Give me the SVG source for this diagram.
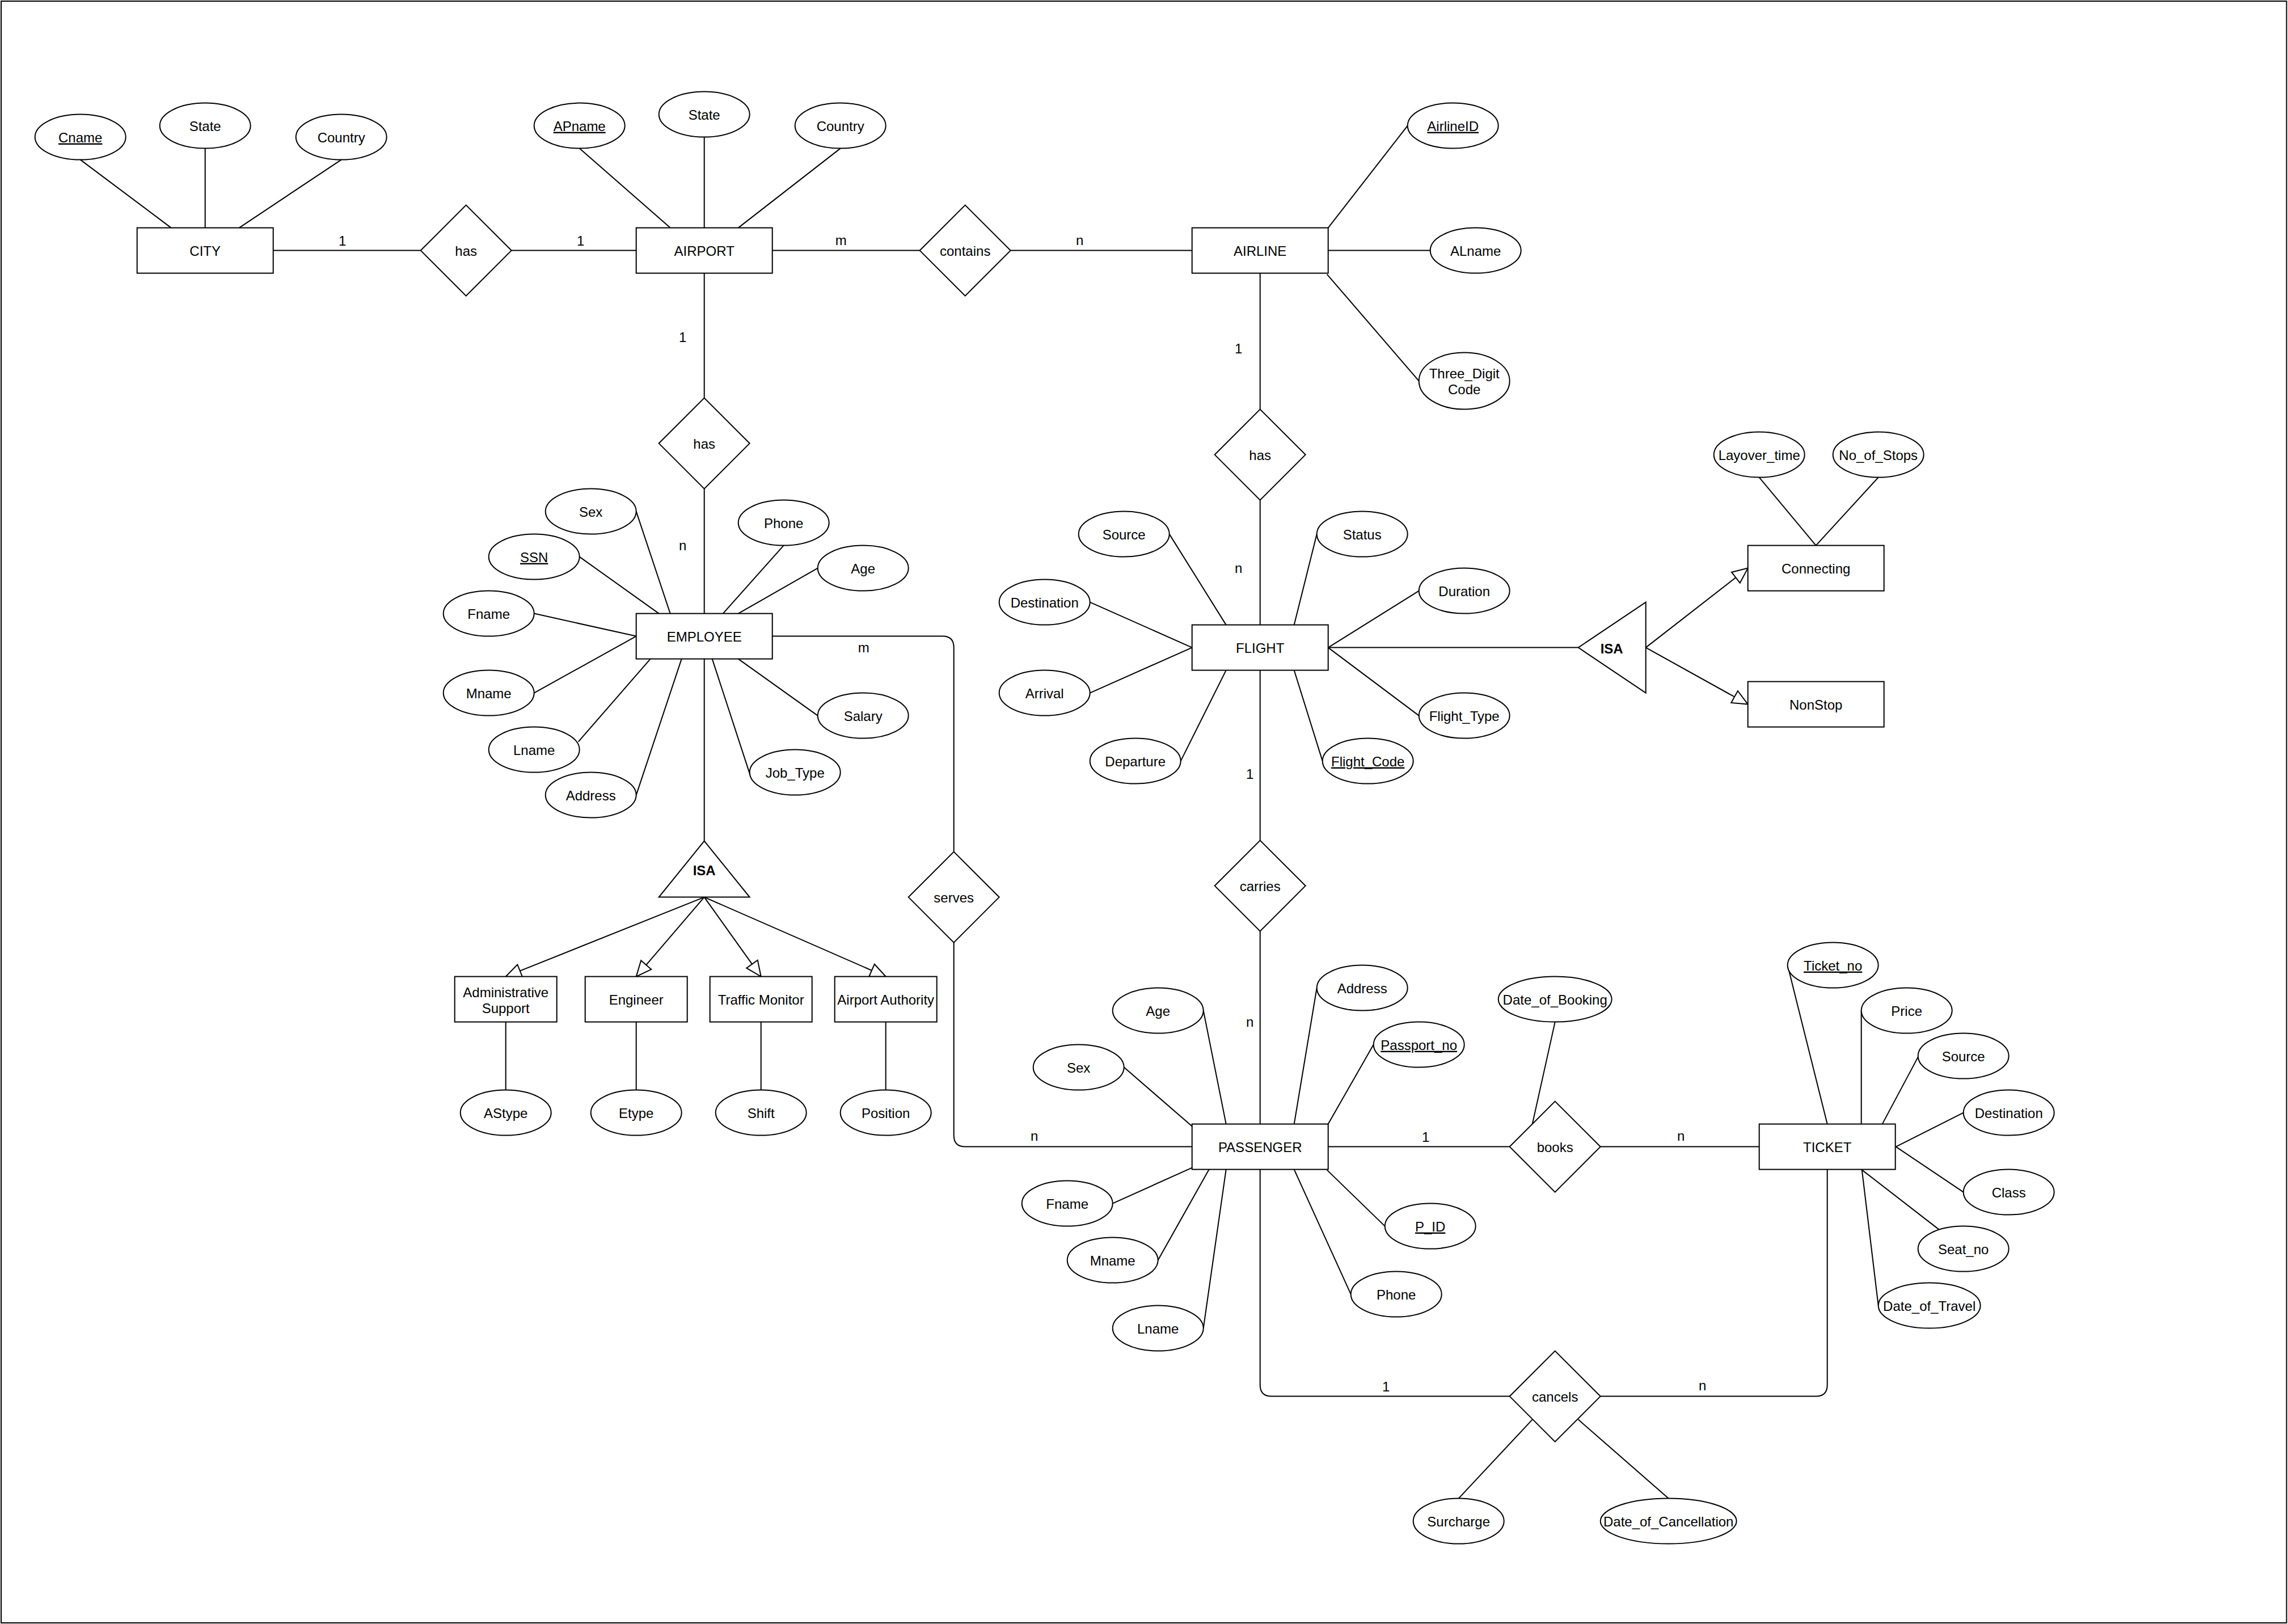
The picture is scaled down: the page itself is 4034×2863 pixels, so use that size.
<svg xmlns="http://www.w3.org/2000/svg" width="4034" height="2863" viewBox="0 0 4034 2863">
  <style>
    .shape { fill: #ffffff; stroke: #000000; stroke-width: 2; }
    .edge { fill: none; stroke: #000000; stroke-width: 2; }
    text { font-family: "Liberation Sans", Arial, Helvetica, sans-serif; font-size: 24px; fill: #000000; stroke: none; text-anchor: middle; }
    .key { text-decoration: underline; }
    .isa { font-weight: bold; }
  </style>
  <defs>
    <marker id="open" markerUnits="userSpaceOnUse" viewBox="-2 -2 31 28" markerWidth="31" markerHeight="28" refX="27" refY="12" orient="auto">
      <path d="M0,0 L27,12 L0,24 Z" fill="#ffffff" stroke="#000000" stroke-width="2"/>
    </marker>
  </defs>

  <rect x="2" y="2" width="4029.5" height="2859" fill="#ffffff" stroke="#000000" stroke-width="2"/>

  <g transform="translate(1.7,1.6)">
    <!-- connectors -->
    <g id="connectors">
      <!-- relationships -->
      <path class="edge" d="M480,440 H740"/>
      <path class="edge" d="M900,440 H1120"/>
      <path class="edge" d="M1360,440 H1620"/>
      <path class="edge" d="M1780,440 H2100"/>
      <path class="edge" d="M1240,480 V700"/>
      <path class="edge" d="M1240,860 V1080"/>
      <path class="edge" d="M2220,480 V720"/>
      <path class="edge" d="M2220,880 V1100"/>
      <path class="edge" d="M2220,1180 V1480"/>
      <path class="edge" d="M2220,1640 V1980"/>
      <path class="edge" d="M1360,1120 H1660 Q1680,1120 1680,1140 V1500"/>
      <path class="edge" d="M1680,1660 V2000 Q1680,2020 1700,2020 H2100"/>
      <path class="edge" d="M2340,2020 H2660"/>
      <path class="edge" d="M2820,2020 H3100"/>
      <path class="edge" d="M2220,2060 V2440 Q2220,2460 2240,2460 H2660"/>
      <path class="edge" d="M2820,2460 H3200 Q3220,2460 3220,2440 V2060"/>
      <!-- specialisation -->
      <path class="edge" d="M1240,1160 V1481"/>
      <path class="edge" d="M1240,1580 L890,1720" marker-end="url(#open)"/>
      <path class="edge" d="M1240,1580 L1120,1720" marker-end="url(#open)"/>
      <path class="edge" d="M1240,1580 L1340,1720" marker-end="url(#open)"/>
      <path class="edge" d="M1240,1580 L1560,1720" marker-end="url(#open)"/>
      <path class="edge" d="M890,1800 V1920"/>
      <path class="edge" d="M1120,1800 V1920"/>
      <path class="edge" d="M1340,1800 V1920"/>
      <path class="edge" d="M1560,1800 V1920"/>
      <path class="edge" d="M2340,1140 H2781"/>
      <path class="edge" d="M2900,1140 L3080,1000" marker-end="url(#open)"/>
      <path class="edge" d="M2900,1140 L3080,1240" marker-end="url(#open)"/>
      <path class="edge" d="M3100,840 L3200,960"/>
      <path class="edge" d="M3310,840 L3200,960"/>
      <!-- attributes -->
      <path class="edge" d="M140,280 L300,400 M360,260 V400 M600,280 L420,400"/>
      <path class="edge" d="M1020,260 L1180,400 M1240,240 V400 M1480,260 L1300,400"/>
      <path class="edge" d="M2480,220 L2340,400 M2520,440 H2340 M2500,670 L2338,482"/>
      <path class="edge" d="M1120,900 L1180,1080 M1020,980 L1160,1080 M940,1080 L1120,1120 M940,1220 L1120,1120 M1018,1306 L1145,1160 M1120,1400 L1200,1160 M1320,1362 L1254,1160 M1440,1260 L1300,1160 M1440,1000 L1300,1080 M1380,960 L1273,1080"/>
      <path class="edge" d="M2060,940 L2160,1100 M2320,940 L2280,1100 M1920,1060 L2100,1140 M1920,1220 L2100,1140 M2080,1340 L2160,1180 M2500,1040 L2340,1140 M2500,1260 L2340,1140 M2330,1340 L2280,1180"/>
      <path class="edge" d="M2120,1780 L2160,1980 M1980,1880 L2100,1984 M2320,1740 L2280,1980 M2420,1840 L2340,1980 M1960,2120 L2100,2057 M2040,2220 L2130,2060 M2120,2340 L2160,2060 M2440,2160 L2338,2061 M2380,2280 L2280,2060"/>
      <path class="edge" d="M2740,1800 L2700,1980 M2570,2640 L2700,2501 M2940,2640 L2781,2501"/>
      <path class="edge" d="M3150,1700 L3220,1980 M3280,1780 V1980 M3381,1860 L3317,1980 M3460,1960 L3341,2020 M3460,2100 L3341,2020 M3417,2166 L3280,2060 M3310,2300 L3281,2060"/>
      <!-- cardinalities -->
      <text x="602" y="431">1</text>
      <text x="1022" y="431">1</text>
      <text x="1481" y="430">m</text>
      <text x="1902" y="430">n</text>
      <text x="1202" y="601">1</text>
      <text x="1202" y="968">n</text>
      <text x="2182" y="621">1</text>
      <text x="2182" y="1008">n</text>
      <text x="1521" y="1148">m</text>
      <text x="2202" y="1371">1</text>
      <text x="2202" y="1808">n</text>
      <text x="1822" y="2009">n</text>
      <text x="2512" y="2011">1</text>
      <text x="2962" y="2009">n</text>
      <text x="2442" y="2451">1</text>
      <text x="3000" y="2449">n</text>
    </g>

    <!-- entities -->
    <g id="city"><rect class="shape" x="240" y="400" width="240" height="80"/><text x="360" y="449">CITY</text></g>
    <g id="airport"><rect class="shape" x="1120" y="400" width="240" height="80"/><text x="1240" y="449">AIRPORT</text></g>
    <g id="airline"><rect class="shape" x="2100" y="400" width="240" height="80"/><text x="2220" y="449">AIRLINE</text></g>
    <g id="employee"><rect class="shape" x="1120" y="1080" width="240" height="80"/><text x="1240" y="1129">EMPLOYEE</text></g>
    <g id="flight"><rect class="shape" x="2100" y="1100" width="240" height="80"/><text x="2220" y="1149">FLIGHT</text></g>
    <g id="passenger"><rect class="shape" x="2100" y="1980" width="240" height="80"/><text x="2220" y="2029">PASSENGER</text></g>
    <g id="ticket"><rect class="shape" x="3100" y="1980" width="240" height="80"/><text x="3220" y="2029">TICKET</text></g>
    <g id="connecting"><rect class="shape" x="3080" y="960" width="240" height="80"/><text x="3200" y="1009">Connecting</text></g>
    <g id="nonstop"><rect class="shape" x="3080" y="1200" width="240" height="80"/><text x="3200" y="1249">NonStop</text></g>
    <g id="administrative-support"><rect class="shape" x="800" y="1720" width="180" height="80"/><text x="890" y="1756">Administrative</text><text x="890" y="1784">Support</text></g>
    <g id="engineer"><rect class="shape" x="1030" y="1720" width="180" height="80"/><text x="1120" y="1769">Engineer</text></g>
    <g id="traffic-monitor"><rect class="shape" x="1250" y="1720" width="180" height="80"/><text x="1340" y="1769">Traffic Monitor</text></g>
    <g id="airport-authority"><rect class="shape" x="1470" y="1720" width="180" height="80"/><text x="1560" y="1769">Airport Authority</text></g>

    <!-- relationships -->
    <g id="has-city-airport"><path class="shape" d="M820,360 L900,440 L820,520 L740,440 Z"/><text x="820" y="449">has</text></g>
    <g id="contains"><path class="shape" d="M1700,360 L1780,440 L1700,520 L1620,440 Z"/><text x="1700" y="449">contains</text></g>
    <g id="has-airport-employee"><path class="shape" d="M1240,700 L1320,780 L1240,860 L1160,780 Z"/><text x="1240" y="789">has</text></g>
    <g id="has-airline-flight"><path class="shape" d="M2220,720 L2300,800 L2220,880 L2140,800 Z"/><text x="2220" y="809">has</text></g>
    <g id="carries"><path class="shape" d="M2220,1480 L2300,1560 L2220,1640 L2140,1560 Z"/><text x="2220" y="1569">carries</text></g>
    <g id="serves"><path class="shape" d="M1680,1500 L1760,1580 L1680,1660 L1600,1580 Z"/><text x="1680" y="1589">serves</text></g>
    <g id="books"><path class="shape" d="M2740,1940 L2820,2020 L2740,2100 L2660,2020 Z"/><text x="2740" y="2029">books</text></g>
    <g id="cancels"><path class="shape" d="M2740,2380 L2820,2460 L2740,2540 L2660,2460 Z"/><text x="2740" y="2469">cancels</text></g>

    <!-- specialisations -->
    <g id="isa-employee"><path class="shape" d="M1240,1481 L1320,1580 L1160,1580 Z"/><text class="isa" x="1240" y="1541">ISA</text></g>
    <g id="isa-flight"><path class="shape" d="M2781,1140 L2900,1060 L2900,1220 Z"/><text class="isa" x="2840" y="1150">ISA</text></g>

    <!-- attributes of CITY -->
    <g id="city-cname"><ellipse class="shape" cx="140" cy="240" rx="80" ry="40"/><text class="key" x="140" y="249">Cname</text></g>
    <g id="city-state"><ellipse class="shape" cx="360" cy="220" rx="80" ry="40"/><text x="360" y="229">State</text></g>
    <g id="city-country"><ellipse class="shape" cx="600" cy="240" rx="80" ry="40"/><text x="600" y="249">Country</text></g>

    <!-- attributes of AIRPORT -->
    <g id="airport-apname"><ellipse class="shape" cx="1020" cy="220" rx="80" ry="40"/><text class="key" x="1020" y="229">APname</text></g>
    <g id="airport-state"><ellipse class="shape" cx="1240" cy="200" rx="80" ry="40"/><text x="1240" y="209">State</text></g>
    <g id="airport-country"><ellipse class="shape" cx="1480" cy="220" rx="80" ry="40"/><text x="1480" y="229">Country</text></g>

    <!-- attributes of AIRLINE -->
    <g id="airline-id"><ellipse class="shape" cx="2560" cy="220" rx="80" ry="40"/><text class="key" x="2560" y="229">AirlineID</text></g>
    <g id="airline-alname"><ellipse class="shape" cx="2600" cy="440" rx="80" ry="40"/><text x="2600" y="449">ALname</text></g>
    <g id="airline-code"><ellipse class="shape" cx="2580" cy="670" rx="80" ry="50"/><text x="2580" y="665">Three_Digit</text><text x="2580" y="693">Code</text></g>

    <!-- attributes of EMPLOYEE -->
    <g id="employee-sex"><ellipse class="shape" cx="1040" cy="900" rx="80" ry="40"/><text x="1040" y="909">Sex</text></g>
    <g id="employee-ssn"><ellipse class="shape" cx="940" cy="980" rx="80" ry="40"/><text class="key" x="940" y="989">SSN</text></g>
    <g id="employee-fname"><ellipse class="shape" cx="860" cy="1080" rx="80" ry="40"/><text x="860" y="1089">Fname</text></g>
    <g id="employee-mname"><ellipse class="shape" cx="860" cy="1220" rx="80" ry="40"/><text x="860" y="1229">Mname</text></g>
    <g id="employee-lname"><ellipse class="shape" cx="940" cy="1320" rx="80" ry="40"/><text x="940" y="1329">Lname</text></g>
    <g id="employee-address"><ellipse class="shape" cx="1040" cy="1400" rx="80" ry="40"/><text x="1040" y="1409">Address</text></g>
    <g id="employee-phone"><ellipse class="shape" cx="1380" cy="920" rx="80" ry="40"/><text x="1380" y="929">Phone</text></g>
    <g id="employee-age"><ellipse class="shape" cx="1520" cy="1000" rx="80" ry="40"/><text x="1520" y="1009">Age</text></g>
    <g id="employee-salary"><ellipse class="shape" cx="1520" cy="1260" rx="80" ry="40"/><text x="1520" y="1269">Salary</text></g>
    <g id="employee-jobtype"><ellipse class="shape" cx="1400" cy="1360" rx="80" ry="40"/><text x="1400" y="1369">Job_Type</text></g>

    <!-- attributes of EMPLOYEE subclasses -->
    <g id="astype"><ellipse class="shape" cx="890" cy="1960" rx="80" ry="40"/><text x="890" y="1969">AStype</text></g>
    <g id="etype"><ellipse class="shape" cx="1120" cy="1960" rx="80" ry="40"/><text x="1120" y="1969">Etype</text></g>
    <g id="shift"><ellipse class="shape" cx="1340" cy="1960" rx="80" ry="40"/><text x="1340" y="1969">Shift</text></g>
    <g id="position"><ellipse class="shape" cx="1560" cy="1960" rx="80" ry="40"/><text x="1560" y="1969">Position</text></g>

    <!-- attributes of FLIGHT -->
    <g id="flight-source"><ellipse class="shape" cx="1980" cy="940" rx="80" ry="40"/><text x="1980" y="949">Source</text></g>
    <g id="flight-status"><ellipse class="shape" cx="2400" cy="940" rx="80" ry="40"/><text x="2400" y="949">Status</text></g>
    <g id="flight-destination"><ellipse class="shape" cx="1840" cy="1060" rx="80" ry="40"/><text x="1840" y="1069">Destination</text></g>
    <g id="flight-arrival"><ellipse class="shape" cx="1840" cy="1220" rx="80" ry="40"/><text x="1840" y="1229">Arrival</text></g>
    <g id="flight-departure"><ellipse class="shape" cx="2000" cy="1340" rx="80" ry="40"/><text x="2000" y="1349">Departure</text></g>
    <g id="flight-duration"><ellipse class="shape" cx="2580" cy="1040" rx="80" ry="40"/><text x="2580" y="1049">Duration</text></g>
    <g id="flight-type"><ellipse class="shape" cx="2580" cy="1260" rx="80" ry="40"/><text x="2580" y="1269">Flight_Type</text></g>
    <g id="flight-code"><ellipse class="shape" cx="2410" cy="1340" rx="80" ry="40"/><text class="key" x="2410" y="1349">Flight_Code</text></g>

    <!-- attributes of Connecting -->
    <g id="layover-time"><ellipse class="shape" cx="3100" cy="800" rx="80" ry="40"/><text x="3100" y="809">Layover_time</text></g>
    <g id="no-of-stops"><ellipse class="shape" cx="3310" cy="800" rx="80" ry="40"/><text x="3310" y="809">No_of_Stops</text></g>

    <!-- attributes of PASSENGER -->
    <g id="passenger-age"><ellipse class="shape" cx="2040" cy="1780" rx="80" ry="40"/><text x="2040" y="1789">Age</text></g>
    <g id="passenger-sex"><ellipse class="shape" cx="1900" cy="1880" rx="80" ry="40"/><text x="1900" y="1889">Sex</text></g>
    <g id="passenger-address"><ellipse class="shape" cx="2400" cy="1740" rx="80" ry="40"/><text x="2400" y="1749">Address</text></g>
    <g id="passenger-passport"><ellipse class="shape" cx="2500" cy="1840" rx="80" ry="40"/><text class="key" x="2500" y="1849">Passport_no</text></g>
    <g id="passenger-fname"><ellipse class="shape" cx="1880" cy="2120" rx="80" ry="40"/><text x="1880" y="2129">Fname</text></g>
    <g id="passenger-mname"><ellipse class="shape" cx="1960" cy="2220" rx="80" ry="40"/><text x="1960" y="2229">Mname</text></g>
    <g id="passenger-lname"><ellipse class="shape" cx="2040" cy="2340" rx="80" ry="40"/><text x="2040" y="2349">Lname</text></g>
    <g id="passenger-pid"><ellipse class="shape" cx="2520" cy="2160" rx="80" ry="40"/><text class="key" x="2520" y="2169">P_ID</text></g>
    <g id="passenger-phone"><ellipse class="shape" cx="2460" cy="2280" rx="80" ry="40"/><text x="2460" y="2289">Phone</text></g>

    <!-- attributes of books / cancels -->
    <g id="date-of-booking"><ellipse class="shape" cx="2740" cy="1760" rx="100" ry="40"/><text x="2740" y="1769">Date_of_Booking</text></g>
    <g id="surcharge"><ellipse class="shape" cx="2570" cy="2680" rx="80" ry="40"/><text x="2570" y="2689">Surcharge</text></g>
    <g id="date-of-cancellation"><ellipse class="shape" cx="2940" cy="2680" rx="120" ry="40"/><text x="2940" y="2689">Date_of_Cancellation</text></g>

    <!-- attributes of TICKET -->
    <g id="ticket-no"><ellipse class="shape" cx="3230" cy="1700" rx="80" ry="40"/><text class="key" x="3230" y="1709">Ticket_no</text></g>
    <g id="ticket-price"><ellipse class="shape" cx="3360" cy="1780" rx="80" ry="40"/><text x="3360" y="1789">Price</text></g>
    <g id="ticket-source"><ellipse class="shape" cx="3460" cy="1860" rx="80" ry="40"/><text x="3460" y="1869">Source</text></g>
    <g id="ticket-destination"><ellipse class="shape" cx="3540" cy="1960" rx="80" ry="40"/><text x="3540" y="1969">Destination</text></g>
    <g id="ticket-class"><ellipse class="shape" cx="3540" cy="2100" rx="80" ry="40"/><text x="3540" y="2109">Class</text></g>
    <g id="ticket-seat"><ellipse class="shape" cx="3460" cy="2200" rx="80" ry="40"/><text x="3460" y="2209">Seat_no</text></g>
    <g id="ticket-date"><ellipse class="shape" cx="3400" cy="2300" rx="90" ry="40"/><text x="3400" y="2309">Date_of_Travel</text></g>
  </g>
</svg>
